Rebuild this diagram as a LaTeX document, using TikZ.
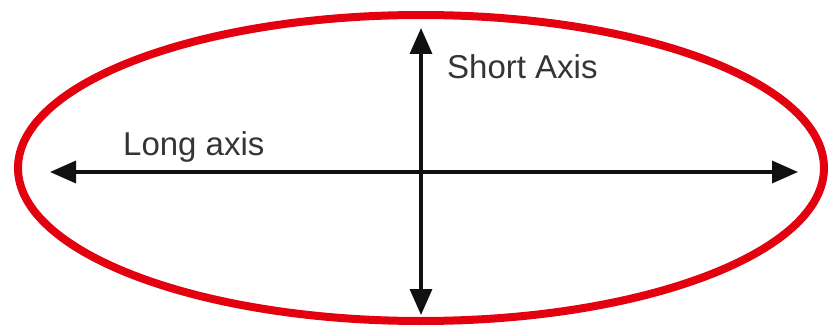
\documentclass[tikz,border=0pt]{standalone}
\usepackage{fontspec}
\setmainfont{Liberation Sans}
\usepackage{xcolor}
\definecolor{rim}{HTML}{E3000F}
\definecolor{ink}{HTML}{111111}
\usepackage{tikz}
\usetikzlibrary{arrows.meta, shapes.geometric}

\begin{document}
\begin{tikzpicture}[
  x=1pt, y=-1pt,
  oval/.style={ellipse, draw=rim, line width=8pt, minimum width=806pt, minimum height=306pt, inner sep=0pt},
  axisArrow/.style={{Triangle[length=26pt, width=22pt]}-{Triangle[length=26pt, width=22pt]}, line width=3.5pt, ink},
  axisLabel/.style={font=\fontsize{33}{40}\selectfont, text=ink!85, inner sep=0pt, anchor=base west},
]
\useasboundingbox (0,0) rectangle (836,329);

% ------------------- outline -------------------
\node[oval] (outline) at (421,168) {};

% ------------------- axes -------------------
\coordinate (longL) at (50,172);
\coordinate (longR) at (798,172);
\coordinate (shortT) at (421,28);
\coordinate (shortB) at (421,315);

\draw[axisArrow] (longL) -- (longR);
\draw[axisArrow] (shortT) -- (shortB);

% ------------------- labels -------------------
\node[axisLabel] (longLabel) at (123,155) {Long axis};
\node[axisLabel] (shortLabel) at (447,78) {Short Axis};

\end{tikzpicture}
\end{document}
